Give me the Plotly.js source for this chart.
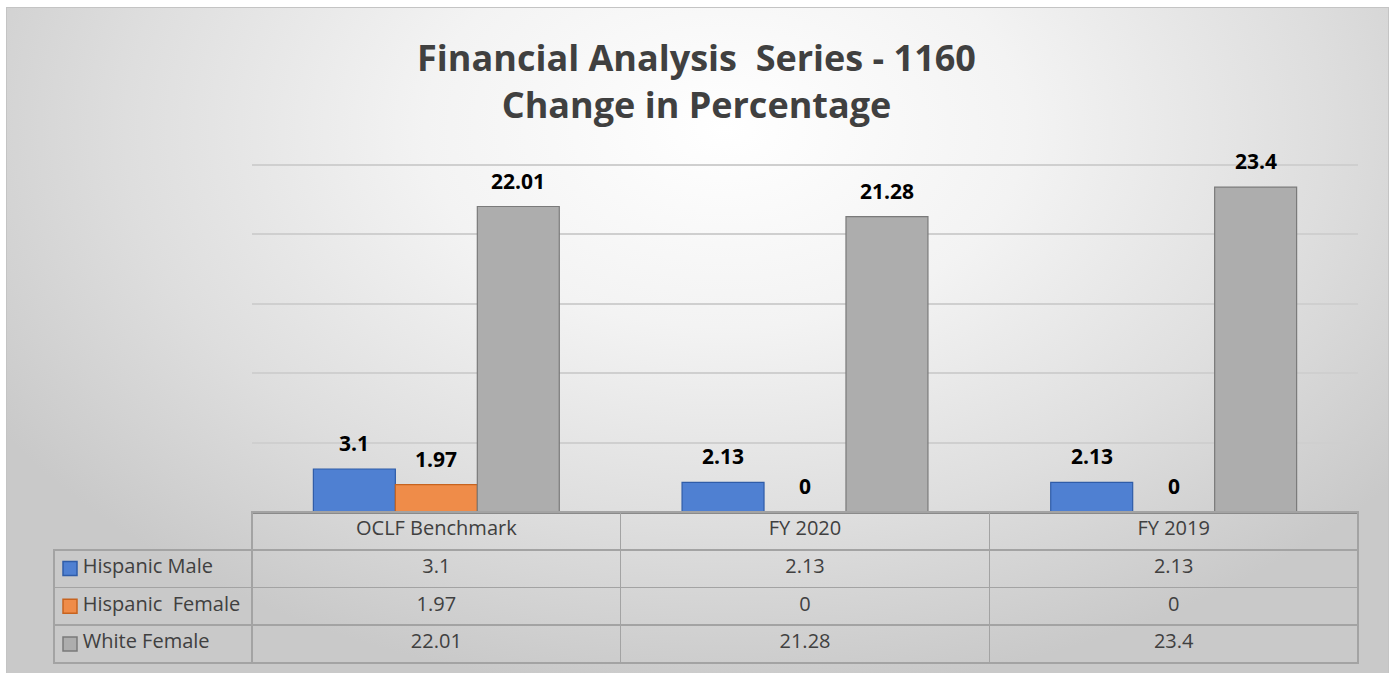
<!DOCTYPE html>
<html>
<head>
<meta charset="utf-8">
<script src="https://cdn.plot.ly/plotly-3.0.1.min.js"></script>
<style>
  html, body { margin: 0; padding: 0; background: #ffffff; }
  #bg {
    position: absolute; left: 6px; top: 7px; width: 1381px; height: 668px;
    border: 1px solid #c4c4c4;
    background: radial-gradient(ellipse 62% 85% at 52% 18%, #ffffff 0%, #f3f3f3 35%, #dedede 70%, #c9c9c9 100%);
  }
  #chart { position: absolute; left: 0; top: 0; width: 1393px; height: 673px; }
</style>
</head>
<body>
<div id="bg"></div>
<div id="chart"></div>
<script>
// ---- data ----
const categories = ['OCLF Benchmark', 'FY 2020', 'FY 2019'];
const seriesNames = ['Hispanic Male', 'Hispanic  Female', 'White Female'];
const hispanicMale = [3.1, 2.13, 2.13];
const hispanicFemale = [1.97, 0, 0];
const whiteFemale = [22.01, 21.28, 23.4];
const chartTitle = 'Financial Analysis \u00a0Series - 1160<br>Change in Percentage';

// ---- styles ----
const seriesValues = [hispanicMale, hispanicFemale, whiteFemale];
const fillColors = ['#4f80d2', '#ef8c49', '#adadad'];
const edgeColors = ['#2f5ca8', '#c7631f', '#7a7a7a'];

const W = 1393, H = 673;
const yTop = 25.3;
const plotL = 252, plotR = 1358, plotB = 512;
const pxPerUnit = (512 - 165) / 25;
const plotT = plotB - yTop * pxPerUnit;
const tableL = 54;
const rowH = 37.75;
const bargap = 0.333;

const nb = s => s.replace(/ /g, '\u00a0');

const traces = seriesValues.map((vals, i) => ({
  type: 'bar',
  name: seriesNames[i],
  x: categories,
  y: vals,
  marker: {
    color: fillColors[i],
    line: { color: edgeColors[i], width: vals.map(v => v > 0 ? 1.2 : 0) }
  },
  hoverinfo: 'x+y+name'
}));

// data table under the plot
const tableColumns = [seriesNames.map(n => '\u00a0\u00a0\u00a0\u00a0' + nb(n))];
categories.forEach((c, j) => tableColumns.push(seriesValues.map(v => String(v[j]))));
const colW = (plotR - plotL) / categories.length;

traces.push({
  type: 'table',
  domain: { x: [tableL / W, plotR / W], y: [0, (H - plotB) / H] },
  columnwidth: [plotL - tableL, colW, colW, colW],
  header: {
    values: [''].concat(categories.map(nb)),
    height: rowH,
    align: 'center',
    fill: { color: 'rgba(0,0,0,0)' },
    line: { color: ['rgba(0,0,0,0)', '#a3a3a3', '#a3a3a3', '#a3a3a3'], width: 1.6 },
    font: { family: 'Open Sans', size: 20, color: '#404040' }
  },
  cells: {
    values: tableColumns,
    height: rowH,
    align: ['left', 'center', 'center', 'center'],
    fill: { color: 'rgba(0,0,0,0)' },
    line: { color: '#a3a3a3', width: 1.6 },
    font: { family: 'Open Sans', size: 20, color: '#404040' }
  }
});

// legend keys inside the table's first column
traces.push({
  type: 'scatter', mode: 'markers',
  x: seriesNames.map(() => 0),
  y: seriesNames,
  xaxis: 'x2', yaxis: 'y2',
  marker: {
    symbol: 'square', size: 14,
    color: fillColors,
    line: { color: edgeColors, width: 1.5 }
  },
  hoverinfo: 'skip'
});

// data labels
const barPx = colW * (1 - bargap) / seriesValues.length;
const annotations = [];
seriesValues.forEach((vals, i) => {
  vals.forEach((v, j) => {
    annotations.push({
      x: categories[j], y: v, xref: 'x', yref: 'y',
      text: String(v), showarrow: false,
      xshift: (i - (seriesValues.length - 1) / 2) * barPx,
      yshift: 26, yanchor: 'middle',
      font: { family: 'Open Sans', size: 21, color: '#000000', weight: 'bold' }
    });
  });
});

const bodyTop = plotB + rowH;
const bodyBottom = plotB + rowH * 4;

const layout = {
  width: W, height: H,
  margin: { l: 0, r: 0, t: 0, b: 0 },
  paper_bgcolor: 'rgba(0,0,0,0)',
  plot_bgcolor: 'rgba(0,0,0,0)',
  showlegend: false,
  barmode: 'group',
  bargap: bargap,
  bargroupgap: 0,
  title: {
    text: chartTitle,
    x: 0.5, xanchor: 'center',
    yref: 'container', y: 1 - 71 / H, yanchor: 'top',
    font: { family: 'Open Sans', size: 36, color: '#404040', weight: 'bold' }
  },
  xaxis: {
    domain: [plotL / W, plotR / W],
    type: 'category',
    showticklabels: false,
    ticks: '',
    showgrid: false,
    showline: true, linecolor: '#8a8a8a', linewidth: 2
  },
  yaxis: {
    domain: [(H - plotB) / H, (H - plotT) / H],
    range: [0, yTop],
    dtick: 5,
    showticklabels: false,
    ticks: '',
    showgrid: true, gridcolor: '#cfcfcf', gridwidth: 1.6,
    zeroline: false, showline: false
  },
  xaxis2: {
    domain: [60 / W, 80 / W], range: [-1, 1], anchor: 'y2',
    visible: false, fixedrange: true
  },
  yaxis2: {
    domain: [(H - bodyBottom) / H, (H - bodyTop) / H],
    type: 'category', categoryarray: seriesNames,
    range: [seriesNames.length - 0.5, -0.5], anchor: 'x2',
    visible: false, fixedrange: true
  },
  annotations: annotations
};

Plotly.newPlot('chart', traces, layout, { displayModeBar: false, responsive: false });
</script>
</body>
</html>
